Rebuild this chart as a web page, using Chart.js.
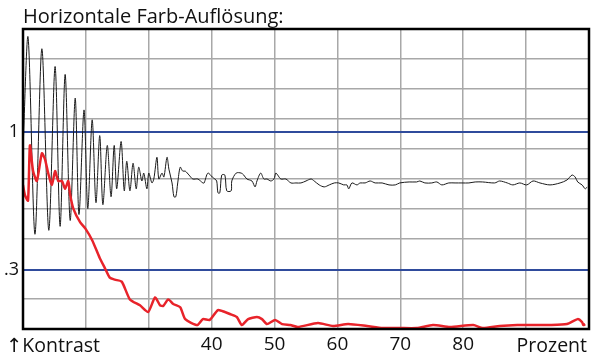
<!DOCTYPE html>
<html>
<head>
<meta charset="utf-8">
<script src="https://cdn.jsdelivr.net/npm/chart.js@4"></script>
<style>
  html, body { margin: 0; padding: 0; background: #fff; }
</style>
</head>
<body>
<canvas id="grafico" width="600" height="364"></canvas>
<script>
const titel = "Horizontale Farb-Auflösung:";

// x ticks (Prozent) that carry a label
const xBeschriftung = [40, 50, 60, 70, 80];

// horizontal grid positions; 0.3 and 1 are the blue reference lines
const yRaster = [0, 0.152, 0.3, 0.456, 0.608, 0.76, 0.912, 1, 1.064, 1.216, 1.368, 1.52];
const yBeschriftung = { "1": "1", "0.3": ".3" };

// black curve (Kontrast)
const schwarzX = [10.0, 10.8, 11.9, 13.0, 14.1, 15.1, 15.9, 16.7, 17.5, 18.3, 18.9, 19.7, 20.3, 21.0, 21.6, 22.2, 22.7, 23.4, 24.0, 24.5,
  24.9, 25.6, 26.1, 26.5, 27.0, 27.5, 28.0, 28.4, 28.9, 29.2, 29.7, 30.0, 30.5, 30.8, 31.3, 31.6, 32.1, 32.4, 32.9, 33.2,
  33.7, 34.0, 34.3, 34.6, 35.0, 35.4, 35.8, 36.4, 37.0, 37.8, 38.6, 38.8, 39.4, 40.1, 40.5, 40.8, 41.0, 41.3, 41.6, 42.1,
  42.4, 43.1, 43.2, 43.9, 44.7, 45.1, 45.6, 46.4, 46.9, 47.2, 47.8, 48.3, 48.8, 49.4, 49.9, 50.2, 50.5, 51.0, 51.8, 52.6,
  53.4, 54.2, 55.0, 55.8, 56.3, 57.1, 57.9, 58.7, 59.5, 60.2, 61.0, 61.5, 61.8, 62.3, 63.1, 63.6, 64.4, 65.2, 66.0, 67.1,
  68.2, 69.2, 69.9, 71.4, 72.6, 73.1, 73.9, 75.0, 75.8, 76.6, 77.7, 78.7, 79.8, 80.9, 81.9, 83.1, 85.0, 85.8, 87.0, 87.9,
  89.0, 90.1, 91.1, 92.2, 93.8, 95.4, 96.5, 97.3, 97.8, 98.2, 98.9, 99.4, 99.7];
const schwarzY = [0.91, 1.48, 0.48, 1.42, 0.50, 1.33, 0.52, 1.29, 0.55, 1.17, 0.58, 1.11, 0.61, 1.06, 0.64, 0.98, 0.63, 0.93, 0.67, 0.93,
  0.71, 0.95, 0.70, 0.85, 0.70, 0.84, 0.71, 0.82, 0.75, 0.79, 0.71, 0.79, 0.74, 0.76, 0.87, 0.76, 0.79, 0.77, 0.87, 0.81,
  0.74, 0.67, 0.67, 0.74, 0.82, 0.80, 0.80, 0.78, 0.76, 0.76, 0.74, 0.74, 0.79, 0.77, 0.76, 0.75, 0.69, 0.69, 0.78, 0.78,
  0.70, 0.70, 0.75, 0.79, 0.79, 0.78, 0.76, 0.75, 0.72, 0.75, 0.79, 0.76, 0.76, 0.75, 0.76, 0.79, 0.78, 0.76, 0.76, 0.74,
  0.74, 0.74, 0.75, 0.76, 0.75, 0.73, 0.72, 0.73, 0.74, 0.74, 0.73, 0.73, 0.71, 0.74, 0.73, 0.74, 0.74, 0.75, 0.74, 0.74,
  0.73, 0.73, 0.74, 0.745, 0.745, 0.75, 0.74, 0.74, 0.745, 0.73, 0.74, 0.74, 0.74, 0.74, 0.745, 0.745, 0.74, 0.75, 0.74, 0.73,
  0.74, 0.73, 0.75, 0.74, 0.73, 0.74, 0.755, 0.78, 0.77, 0.745, 0.73, 0.71, 0.72];

// red curve
const rotX = [10.0, 10.3, 10.8, 11.1, 11.6, 12.2, 13.0, 13.5, 14.0, 14.6, 15.1, 15.6, 16.2, 16.7, 17.2, 17.5, 18.0, 19.1, 19.9, 21.0,
  22.2, 23.0, 23.8, 24.6, 25.7, 27.0, 28.6, 29.9, 31.0, 31.8, 32.3, 33.1, 33.9, 35.0, 35.8, 37.7, 38.6, 39.7, 41.0, 42.1,
  42.9, 44.0, 44.8, 45.8, 47.2, 48.0, 48.8, 50.1, 51.2, 52.5, 53.7, 56.9, 59.3, 61.7, 64.7, 67.2, 69.9, 72.6, 75.2, 77.9,
  81.6, 83.1, 85.8, 88.6, 91.1, 93.8, 96.5, 98.2, 98.9, 99.1, 99.4];
const rotY = [0.73, 0.68, 0.65, 0.93, 0.80, 0.75, 0.89, 0.86, 0.79, 0.73, 0.80, 0.75, 0.75, 0.71, 0.75, 0.68, 0.61, 0.54, 0.51, 0.45,
  0.36, 0.31, 0.26, 0.25, 0.24, 0.15, 0.12, 0.086, 0.16, 0.12, 0.117, 0.15, 0.127, 0.11, 0.05, 0.02, 0.05, 0.046, 0.096, 0.086,
  0.076, 0.061, 0.02, 0.05, 0.061, 0.05, 0.025, 0.046, 0.025, 0.02, 0.01, 0.03, 0.015, 0.025, 0.015, 0.005, 0.005, 0.005, 0.02, 0.01,
  0.02, 0.005, 0.015, 0.02, 0.02, 0.02, 0.025, 0.05, 0.035, 0.02, 0.025];

const punkte = (xs, ys) => xs.map((x, i) => ({ x: x, y: ys[i] }));

const schrift = '"Open Sans", "DejaVu Sans", sans-serif';

const texte = {
  id: "texte",
  afterDatasetsDraw(chart) {
    const c = chart.ctx;
    const a = chart.chartArea;
    c.save();
    c.strokeStyle = "#000";
    c.lineWidth = 2.5;
    c.strokeRect(a.left, a.top, a.right - a.left, a.bottom - a.top);
    c.fillStyle = "#111";
    c.textBaseline = "alphabetic";
    c.textAlign = "left";
    c.font = "20px " + schrift;
    c.fillText(titel, a.left, 23);
    c.font = "19.5px " + schrift;
    c.fillText("↑Kontrast", 6, 352);
    c.textAlign = "right";
    c.fillText("Prozent", 587, 352);
    c.restore();
  }
};

new Chart(document.getElementById("grafico").getContext("2d"), {
  type: "line",
  data: {
    datasets: [{
      data: punkte(rotX, rotY),
      borderColor: "#e8232a",
      borderWidth: 2.5,
      pointRadius: 0,
      tension: 0.2
    }, {
      data: punkte(schwarzX, schwarzY),
      borderColor: "#1a1a1a",
      borderWidth: 1,
      pointRadius: 0,
      tension: 0.3
    }]
  },
  options: {
    responsive: false,
    animation: false,
    layout: { padding: { top: 29, right: 11, left: 0, bottom: 0 } },
    plugins: { legend: { display: false }, tooltip: { enabled: false } },
    scales: {
      x: {
        type: "linear",
        min: 10,
        max: 100,
        afterFit: s => { s.height = 35; },
        afterBuildTicks: s => {
          s.ticks = [10, 20, 30, 40, 50, 60, 70, 80, 90, 100].map(v => ({ value: v }));
        },
        ticks: {
          autoSkip: false,
          maxRotation: 0,
          padding: 4,
          color: "#111",
          font: { family: schrift, size: 19 },
          callback: v => xBeschriftung.includes(v) ? String(v) : ""
        },
        grid: { color: "#a8a8a8", lineWidth: 1.5, drawTicks: false },
        border: { display: false }
      },
      y: {
        min: 0,
        max: 1.52,
        afterFit: s => { s.width = 23; },
        afterBuildTicks: s => { s.ticks = yRaster.map(v => ({ value: v })); },
        ticks: {
          autoSkip: false,
          padding: 4,
          color: "#111",
          font: { family: schrift, size: 18 },
          callback: v => yBeschriftung[String(v)] || ""
        },
        grid: {
          drawTicks: false,
          color: c => (c.tick && yBeschriftung[String(c.tick.value)]) ? "#2f4b9c" : "#a8a8a8",
          lineWidth: c => (c.tick && yBeschriftung[String(c.tick.value)]) ? 2 : 1.5
        },
        border: { display: false }
      }
    }
  },
  plugins: [texte]
});
</script>
</body>
</html>
